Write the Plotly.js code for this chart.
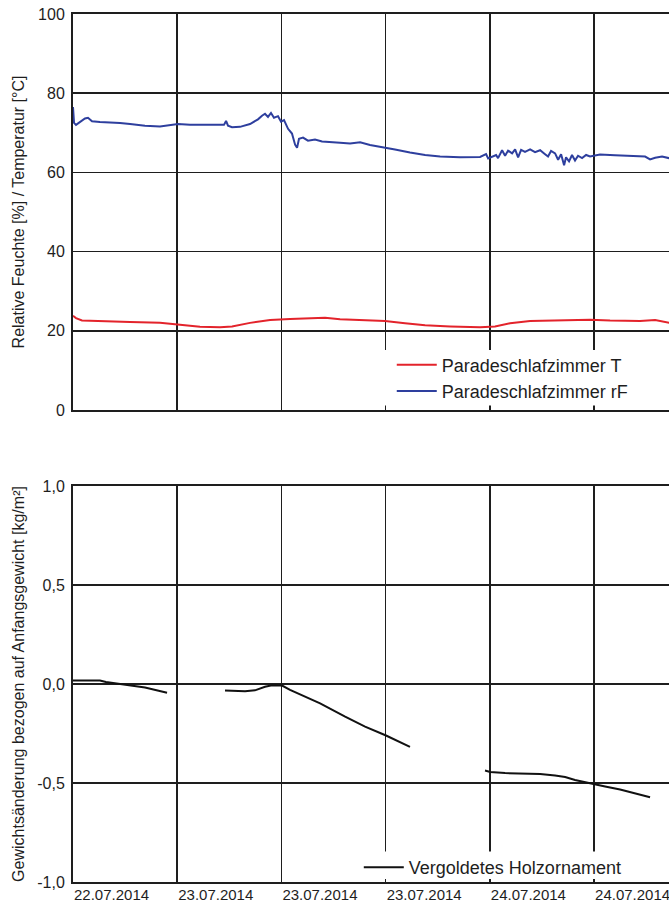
<!DOCTYPE html>
<html>
<head>
<meta charset="utf-8">
<script src="https://cdn.plot.ly/plotly-3.0.1.min.js"></script>
<style>
html, body { margin: 0; padding: 0; overflow: hidden; background: #fff; }
#chart { width: 760px; height: 908px; }
</style>
</head>
<body>
<div id="chart"></div>
<script>
// time axis: hours after the first grid line (22.07.2014)
const tickHours = [0, 8, 16, 24, 32, 40, 48];
const tickLabels = ['22.07.2014', '23.07.2014', '23.07.2014', '23.07.2014', '24.07.2014', '24.07.2014', '24.07.2014'];

// Paradeschlafzimmer rF [%]
const rfHours = [0.0, 0.08, 0.23, 0.54, 0.92, 1.15, 1.46, 2.07, 2.84, 3.61, 4.38, 5.53, 6.68, 7.45, 8.06, 8.98, 10.52, 11.59, 11.75, 11.90, 12.21, 12.82, 13.59, 14.20, 14.51, 14.74, 14.97, 15.20, 15.43, 15.74, 15.97, 16.20, 16.51, 16.81, 17.05, 17.20, 17.35, 17.66, 18.04, 18.58, 19.12, 19.73, 20.50, 21.27, 22.04, 22.80, 23.42, 24.03, 24.72, 25.87, 27.03, 28.18, 29.71, 31.25, 31.71, 31.87, 32.17, 32.48, 32.63, 32.94, 33.17, 33.40, 33.71, 33.94, 34.17, 34.40, 34.70, 35.09, 35.47, 35.86, 36.24, 36.47, 36.70, 37.01, 37.24, 37.47, 37.70, 37.85, 38.08, 38.31, 38.54, 38.77, 39.08, 39.39, 39.69, 40.00, 40.46, 41.61, 42.77, 43.92, 44.30, 44.69, 45.22, 45.76, 47.37, 49.68];
const rfValues = [76.5, 72.5, 72.0, 72.8, 73.6, 73.8, 72.9, 72.7, 72.6, 72.5, 72.2, 71.8, 71.6, 71.9, 72.2, 72.0, 71.9, 72.0, 73.0, 71.8, 71.4, 71.5, 72.2, 73.4, 74.3, 74.8, 74.0, 75.0, 73.8, 74.2, 72.8, 73.2, 71.0, 69.8, 67.0, 66.2, 68.5, 68.8, 68.0, 68.3, 67.8, 67.6, 67.5, 67.3, 67.6, 66.9, 66.6, 66.3, 65.8, 65.0, 64.4, 64.0, 63.8, 63.9, 64.6, 63.5, 63.9, 64.4, 63.6, 65.6, 64.2, 65.5, 64.8, 65.8, 63.8, 65.7, 65.2, 65.8, 65.1, 65.6, 64.6, 64.0, 65.4, 64.8, 63.2, 64.6, 61.8, 63.8, 62.8, 64.4, 63.0, 64.2, 63.6, 64.4, 64.0, 64.2, 64.5, 64.3, 64.1, 64.0, 63.3, 63.7, 64.0, 63.6, 63.8, 64.0];

// Paradeschlafzimmer T [°C]
const tHours = [0, 0.23, 0.69, 2.07, 4.38, 6.68, 8.06, 9.75, 11.29, 12.21, 13.59, 15.13, 16.66, 18.20, 19.35, 20.50, 22.04, 23.95, 25.49, 27.03, 28.95, 31.25, 32.40, 33.55, 35.09, 37.39, 39.69, 41.23, 43.53, 44.69, 45.76, 48.14, 49.68];
const tValues = [23.8, 23.2, 22.6, 22.4, 22.2, 22.0, 21.5, 21.0, 20.9, 21.1, 22.0, 22.7, 23.0, 23.2, 23.3, 22.9, 22.7, 22.5, 21.9, 21.4, 21.1, 20.9, 21.1, 21.9, 22.5, 22.7, 22.8, 22.6, 22.5, 22.7, 22.0, 22.2, 22.4];

// Vergoldetes Holzornament: weight change [kg/m²] (null = gap in measurement)
const wHours = [0, 2.07, 2.53, 3.99, 5.53, 7.22, null, 11.67, 13.21, 13.97, 14.74, 15.28, 16.05, 16.66, 17.43, 18.97, 20.89, 22.42, 24.03, 25.87, null, 31.63, 32.02, 33.17, 34.32, 35.86, 37.01, 37.78, 38.54, 39.69, 40.85, 42.00, 44.30];
const wValues = [0.018, 0.018, 0.010, -0.002, -0.018, -0.044, null, -0.033, -0.037, -0.032, -0.014, -0.006, -0.008, -0.030, -0.052, -0.098, -0.165, -0.215, -0.260, -0.318, null, -0.437, -0.444, -0.450, -0.452, -0.455, -0.462, -0.470, -0.485, -0.503, -0.518, -0.533, -0.572];

const topTicks = [0, 20, 40, 60, 80, 100];
const bottomTicks = [-1, -0.5, 0, 0.5, 1];
const bottomTickLabels = ['-1,0', '-0,5', '0,0', '0,5', '1,0'];

const FONT = 'Liberation Sans, Arial, sans-serif';
const INK = '#1e1e1e';

const traces = [
  { x: tHours, y: tValues, type: 'scatter', mode: 'lines', name: 'Paradeschlafzimmer T',
    line: { color: '#e3232b', width: 2 }, xaxis: 'x', yaxis: 'y', legend: 'legend' },
  { x: rfHours, y: rfValues, type: 'scatter', mode: 'lines', name: 'Paradeschlafzimmer rF',
    line: { color: '#2e3f9e', width: 2 }, xaxis: 'x', yaxis: 'y', legend: 'legend' },
  { x: wHours, y: wValues, type: 'scatter', mode: 'lines', name: 'Vergoldetes Holzornament',
    line: { color: '#111', width: 2 }, connectgaps: false, xaxis: 'x2', yaxis: 'y2', legend: 'legend2' }
];

const xRange = [0, 52.74];
const commonX = {
  range: xRange, tickvals: tickHours, ticktext: tickLabels,
  showgrid: true, gridcolor: INK, gridwidth: 1.5, zeroline: false,
  showline: true, mirror: true, linecolor: INK, linewidth: 2, ticks: ''
};
const commonY = {
  showgrid: true, gridcolor: INK, gridwidth: 1.5, zeroline: false,
  showline: true, mirror: true, linecolor: INK, linewidth: 2, ticks: '',
  ticklabelstandoff: 3, tickfont: { family: FONT, size: 16, color: INK }
};

const layout = {
  width: 760, height: 908,
  margin: { l: 73, r: 0, t: 14, b: 26 },
  paper_bgcolor: '#fff', plot_bgcolor: '#fff',
  font: { family: FONT, color: INK },
  showlegend: true,
  xaxis: Object.assign({}, commonX, { domain: [0, 1], anchor: 'y', showticklabels: false }),
  yaxis: Object.assign({}, commonY, {
    domain: [0.5438, 1], anchor: 'x', range: [0, 100], tickvals: topTicks,
    title: { text: 'Relative Feuchte [%] / Temperatur [°C]', font: { family: FONT, size: 16, color: INK }, standoff: 9 }
  }),
  xaxis2: Object.assign({}, commonX, {
    domain: [0, 1], anchor: 'y2', showticklabels: true,
    ticklabelposition: 'outside right', ticklabelstandoff: -2,
    tickfont: { family: FONT, size: 15, color: INK }
  }),
  yaxis2: Object.assign({}, commonY, {
    domain: [0, 0.4562], anchor: 'x2', range: [-1, 1],
    tickvals: bottomTicks, ticktext: bottomTickLabels,
    title: { text: 'Gewichtsänderung bezogen auf Anfangsgewicht [kg/m²]', font: { family: FONT, size: 16, color: INK }, standoff: 9 }
  }),
  legend: {
    x: 0.464, y: 0.617, xanchor: 'left', yanchor: 'top',
    bgcolor: 'rgba(255,255,255,0)', borderwidth: 0,
    font: { family: FONT, size: 18, color: INK }, itemwidth: 40, tracegroupgap: 0
  },
  legend2: {
    x: 0.416, y: 0.038, xanchor: 'left', yanchor: 'top',
    bgcolor: 'rgba(255,255,255,0)', borderwidth: 0,
    font: { family: FONT, size: 18, color: INK }, itemwidth: 40
  },
  shapes: [
    { type: 'rect', xref: 'paper', yref: 'paper', x0: 0.444, x1: 1.0, y0: 0.549, y1: 0.613,
      fillcolor: '#fff', line: { width: 0 }, layer: 'above' },
    { type: 'rect', xref: 'paper', yref: 'paper', x0: 0.403, x1: 1.0, y0: 0.0035, y1: 0.035,
      fillcolor: '#fff', line: { width: 0 }, layer: 'above' }
  ]
};

Plotly.newPlot('chart', traces, layout, { displayModeBar: false, staticPlot: true });
</script>
</body>
</html>
